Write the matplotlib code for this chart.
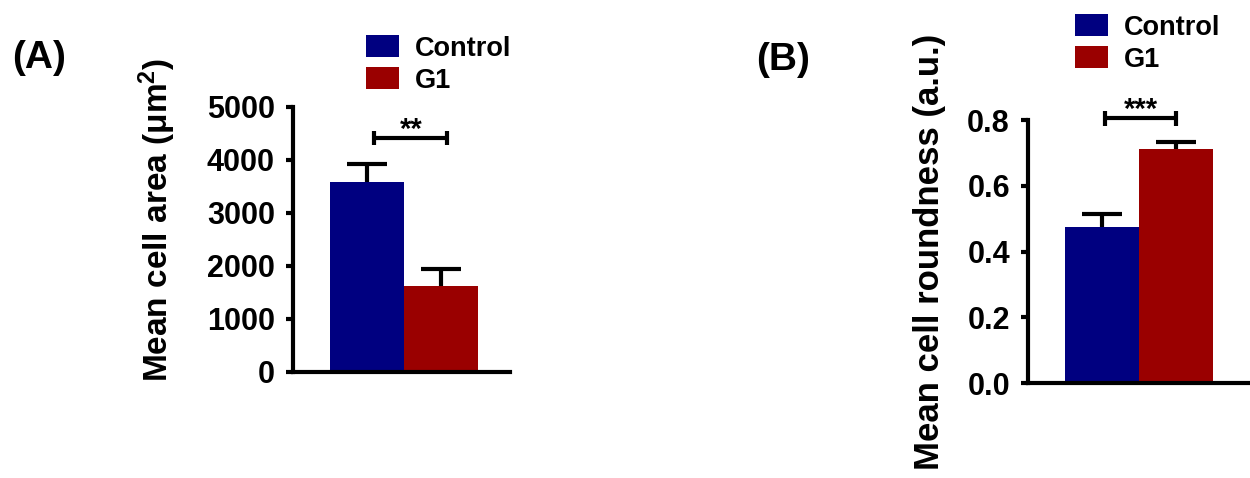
import matplotlib
matplotlib.use("Agg")
import matplotlib.pyplot as plt

plt.rcParams['font.family'] = ['Liberation Sans', 'DejaVu Sans']
plt.rcParams['font.weight'] = 'bold'
plt.rcParams['mathtext.fontset'] = 'custom'
plt.rcParams['mathtext.rm'] = 'Liberation Sans:bold'
plt.rcParams['mathtext.it'] = 'Liberation Sans:bold'
plt.rcParams['mathtext.bf'] = 'Liberation Sans:bold'

# ---- data ----
groups = ["Control", "G1"]
group_colors = ["#000080", "#9a0000"]

area_mean = [3580, 1630]
area_sem = [350, 320]
area_ticks = [0, 1000, 2000, 3000, 4000, 5000]
area_sig = "**"

round_mean = [0.474, 0.711]
round_sem = [0.040, 0.022]
round_ticks = [0.0, 0.2, 0.4, 0.6, 0.8]
round_tick_labels = ["0.0", "0.2", "0.4", "0.6", "0.8"]
round_sig = "***"

LW = 3.0
fig = plt.figure(figsize=(12.5, 4.78), dpi=100)


def panel(rect, means, sems, ticks, ticklabels, ylim, xlim, ylabel, label_xy,
          label_size, sig, sig_x, sig_y, sig_h, legend_xy, letter, letter_xy):
    ax = fig.add_axes(rect)
    xs = [1.0, 2.0]
    # error bars (upper only), drawn beneath the bars
    for x, m, s in zip(xs, means, sems):
        ax.vlines(x, m, m + s, color="black", lw=LW, zorder=1)
        ax.hlines(m + s, x - 0.27, x + 0.27, color="black", lw=LW, zorder=1)
    bars = ax.bar(xs, means, width=1.0, color=group_colors, zorder=2)
    # significance bracket
    ax.hlines(sig_y, sig_x[0], sig_x[1], color="black", lw=LW, clip_on=False)
    ax.vlines(sig_x, sig_y - sig_h, sig_y + sig_h, color="black", lw=LW,
              clip_on=False)
    ax.text(sum(sig_x) / 2, sig_y, sig, ha="center", va="baseline",
            fontsize=21, fontweight="bold")

    ax.set_xlim(*xlim)
    ax.set_ylim(*ylim)
    ax.set_yticks(ticks)
    ax.set_yticklabels(ticklabels)
    ax.set_xticks([])
    for side in ("top", "right"):
        ax.spines[side].set_visible(False)
    for side in ("left", "bottom"):
        ax.spines[side].set_linewidth(LW)
    ax.tick_params(axis="y", length=5, width=LW, pad=8, labelsize=22)
    ax.set_ylabel(ylabel, fontsize=label_size, fontweight="bold")
    ax.yaxis.label.set_va("center")
    ax.yaxis.set_label_coords(*label_xy)

    ax.legend(bars.patches, groups, loc="upper left",
              bbox_to_anchor=legend_xy, bbox_transform=fig.transFigure,
              frameon=False, borderpad=0, borderaxespad=0,
              handlelength=1.2, handleheight=0.9, handletextpad=0.6,
              labelspacing=0.2, prop={"weight": "bold", "size": 19.5})
    fig.text(*letter_xy, letter, fontsize=28, fontweight="bold",
             ha="center", va="center")
    return ax


panel([0.2344, 0.2218, 0.1736, 0.5544], area_mean, area_sem, area_ticks,
      [str(t) for t in area_ticks], (0, 5000), (0, 2.93),
      r"Mean cell area (μm$^2$)", (-0.625, 0.574), 24,
      area_sig, (1.1, 2.08), 4420, 135, (366 / 1250, 1 - 35 / 478),
      "(A)", (39 / 1250, 1 - 58 / 478))

panel([0.8224, 0.1987, 0.176, 0.5502], round_mean, round_sem, round_ticks,
      round_tick_labels, (0, 0.8), (0, 2.97),
      "Mean cell roundness (a.u.)", (-0.45, 0.5), 25,
      round_sig, (1.04, 2.0), 0.805, 0.022, (1075 / 1250, 1 - 14 / 478),
      "(B)", (783 / 1250, 1 - 60 / 478))

fig.savefig("out.png", dpi=100)
